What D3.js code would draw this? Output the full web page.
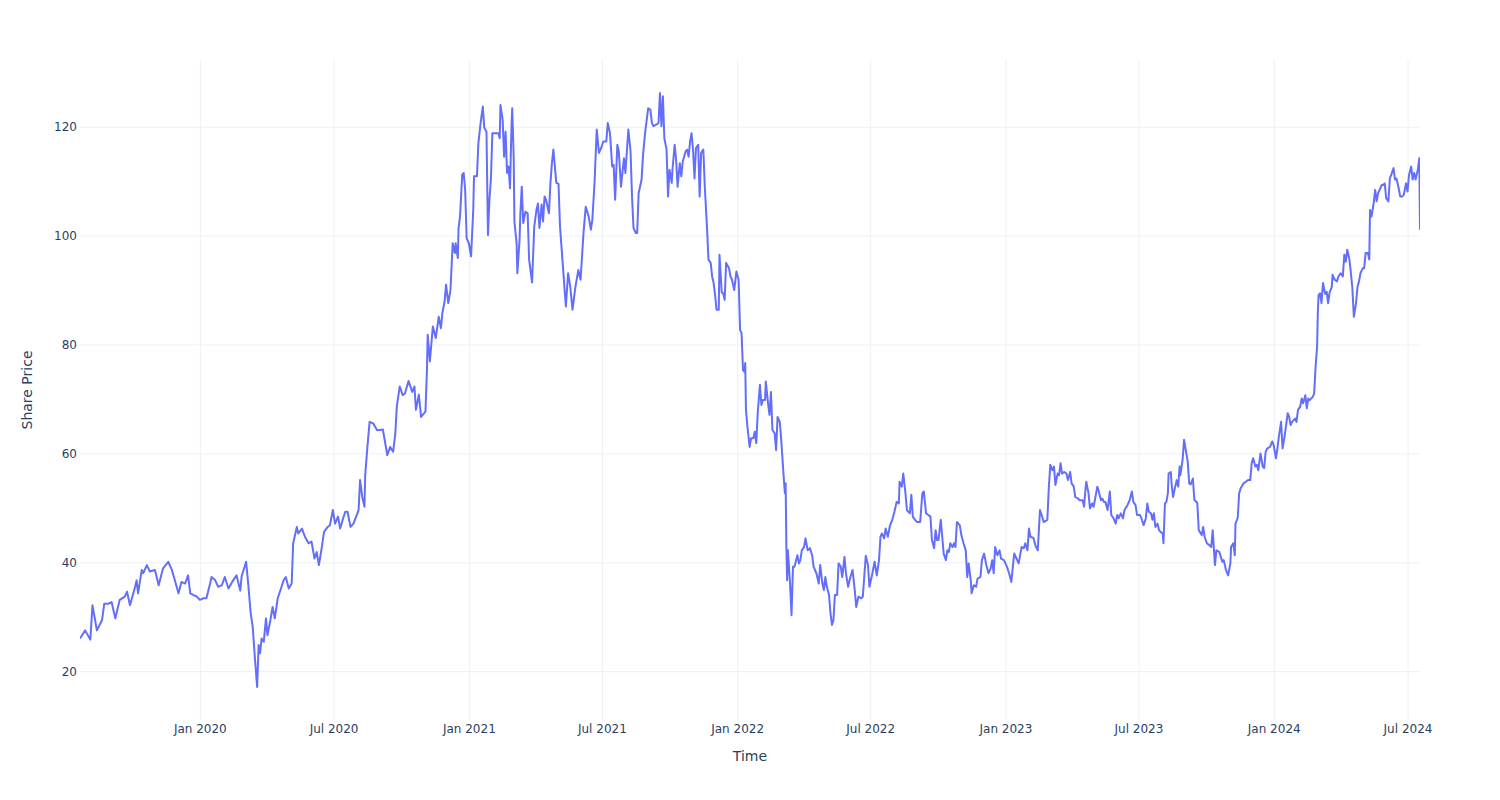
<!DOCTYPE html>
<html>
<head>
<meta charset="utf-8">
<script src="https://cdn.jsdelivr.net/npm/d3@7"></script>
<style>
  html, body { margin: 0; padding: 0; background: #fff; }
  svg { display: block; font-family: "DejaVu Sans", Verdana, sans-serif; }
</style>
</head>
<body>
<svg id="chart" width="1500" height="800"></svg>
<script>
// ---- data ----
const startDate = "2019-07-22";           // first trading day shown
// days elapsed since startDate for each observation
const dayOffsets = [0,7,14,17,23,30,33,39,43,48,54,61,64,68,75,77,79,84,86,91,95,102,107,113,120,125,129,134,138,143,147,150,154,159,163,168,172,177,179,184,188,193,197,202,207,213,218,220,226,229,232,235,238,241,243,245,247,250,253,255,259,262,265,269,272,277,280,284,288,290,295,297,302,306,311,315,319,322,325,329,332,337,340,344,347,351,354,358,361,364,368,372,374,379,381,384,387,388,391,394,399,404,408,412,415,418,422,426,429,431,435,439,442,447,452,455,457,461,464,470,472,473,476,480,484,488,491,493,496,498,501,504,507,510,511,514,515,517,520,522,524,526,529,532,535,536,540,542,545,548,550,553,555,557,559,561,565,569,571,572,575,577,579,581,583,585,587,588,590,591,594,595,598,599,601,603,606,609,611,615,618,621,623,625,628,630,632,634,638,640,642,644,648,651,653,656,659,661,664,667,670,674,678,681,685,688,692,695,697,700,703,706,709,712,716,718,721,724,726,728,731,733,736,740,742,746,749,751,753,756,758,760,764,766,769,773,776,778,780,784,787,789,791,793,795,798,800,802,805,806,809,811,813,816,818,820,824,826,828,830,832,834,836,838,841,843,845,848,850,853,855,858,860,862,864,866,869,870,873,875,877,879,883,885,887,890,893,896,898,900,902,904,905,906,908,911,913,916,918,920,922,925,927,929,932,933,936,938,940,942,945,947,949,952,954,957,959,960,961,962,963,966,968,970,972,976,978,980,982,985,987,990,993,996,998,1002,1005,1007,1010,1012,1014,1016,1019,1021,1023,1025,1027,1030,1032,1035,1037,1040,1042,1045,1048,1051,1054,1056,1059,1063,1065,1069,1072,1074,1078,1081,1084,1087,1089,1091,1094,1096,1099,1102,1105,1108,1111,1114,1115,1118,1120,1123,1125,1129,1131,1133,1136,1139,1143,1146,1148,1151,1154,1157,1159,1162,1164,1166,1168,1171,1173,1175,1178,1180,1182,1184,1187,1189,1191,1193,1197,1199,1202,1205,1207,1209,1212,1213,1216,1219,1221,1225,1227,1230,1233,1236,1239,1241,1243,1245,1248,1251,1253,1257,1261,1264,1267,1270,1271,1274,1277,1281,1284,1286,1289,1291,1293,1297,1300,1303,1306,1309,1311,1316,1318,1320,1323,1325,1327,1330,1332,1334,1336,1339,1342,1344,1347,1349,1352,1354,1358,1360,1364,1366,1368,1369,1372,1374,1377,1379,1382,1384,1386,1389,1391,1393,1395,1398,1401,1403,1406,1409,1411,1413,1416,1419,1421,1425,1428,1431,1433,1436,1438,1442,1444,1447,1450,1452,1454,1457,1459,1461,1463,1466,1468,1470,1473,1474,1476,1478,1480,1481,1484,1485,1487,1490,1492,1494,1496,1497,1500,1502,1504,1507,1509,1511,1514,1516,1520,1522,1526,1528,1530,1533,1536,1539,1541,1544,1546,1550,1552,1554,1556,1559,1562,1565,1566,1569,1571,1572,1575,1577,1579,1583,1586,1589,1592,1594,1596,1599,1601,1603,1606,1609,1611,1613,1615,1619,1622,1624,1627,1629,1631,1634,1636,1638,1640,1643,1645,1647,1649,1653,1655,1657,1660,1662,1664,1667,1669,1671,1673,1677,1679,1681,1683,1684,1685,1687,1689,1691,1694,1696,1698,1700,1703,1704,1707,1710,1712,1715,1718,1720,1722,1724,1727,1729,1731,1733,1736,1738,1740,1742,1745,1747,1749,1752,1754,1755,1757,1760,1762,1764,1766,1768,1771,1773,1775,1777,1780,1782,1784,1787,1789,1791,1794,1796,1799,1801,1804,1806,1808,1811,1813,1815,1817,1820,1822,1823];
const prices = [26.0,27.5,25.8,32.1,27.5,29.4,32.4,32.4,32.7,29.7,33.1,33.7,34.6,32.1,35.5,36.7,34.3,38.6,38.0,39.5,38.3,38.6,35.8,38.9,40.1,38.6,36.7,34.3,36.4,36.1,37.6,34.3,34.0,33.7,33.1,33.4,33.4,36.1,37.3,36.7,35.5,35.8,37.3,35.2,36.4,37.6,34.8,37.5,40.1,35.8,30.9,28.1,22.3,17.1,24.8,23.3,26.0,25.4,29.7,26.6,29.4,31.8,29.7,33.4,34.6,36.7,37.3,35.2,36.1,43.5,46.5,45.3,46.2,44.7,43.5,43.8,40.7,41.9,39.5,42.8,45.6,46.5,46.8,49.6,47.1,48.4,46.2,48.1,49.3,49.3,46.5,47.1,47.8,49.6,55.1,52.0,50.2,56.0,61.2,65.8,65.5,64.3,64.3,64.4,62.1,59.7,61.2,60.3,63.7,68.6,72.3,70.7,71.0,73.3,71.3,72.3,68.0,70.8,66.7,67.7,75.3,81.8,76.9,83.3,81.2,85.1,83.0,85.8,87.9,91.0,87.6,90.0,98.6,96.8,98.6,95.9,101.4,103.5,111.2,111.5,108.4,99.5,98.6,96.2,104.7,110.9,110.9,117.0,120.7,123.7,119.8,119.1,100.1,106.6,110.3,118.8,118.8,118.8,117.9,124.0,121.3,114.5,119.1,111.5,112.7,108.7,120.0,123.4,114.5,102.6,98.6,93.1,99.2,103.8,109.0,102.3,104.4,104.1,95.6,91.4,101.7,104.7,105.9,101.4,105.7,102.6,107.2,106.6,104.1,109.7,113.3,115.8,109.7,109.5,101.7,96.2,90.6,87.0,93.1,90.6,86.4,90.6,93.7,91.9,100.5,105.3,103.5,101.1,102.9,109.7,119.5,115.2,116.1,117.3,117.3,120.7,118.8,112.7,113.0,106.6,116.7,115.5,109.0,114.2,111.5,119.5,115.5,107.2,101.4,100.5,100.5,107.8,110.3,114.9,119.1,123.4,123.1,120.7,120.1,120.4,120.7,126.2,120.1,125.6,117.9,115.8,107.2,112.1,109.7,112.1,116.7,113.9,109.0,113.3,110.9,113.6,115.5,115.8,114.5,117.3,118.8,115.8,110.5,116.1,116.7,107.2,115.2,115.8,109.0,101.5,95.6,95.0,92.5,91.3,89.1,86.4,86.4,96.5,89.6,89.4,88.2,95.0,94.0,92.5,91.9,90.0,93.4,91.9,82.7,82.1,75.3,75.0,76.6,68.0,64.9,61.2,62.8,62.8,64.0,61.9,67.4,72.6,68.9,69.8,69.8,73.2,69.2,67.1,71.3,64.3,63.7,60.6,66.7,65.8,62.5,56.3,52.7,54.5,42.8,36.7,42.2,36.1,30.3,39.2,39.2,41.3,39.8,40.4,42.2,42.8,44.4,42.2,42.6,41.3,39.2,37.9,36.1,39.5,36.1,34.9,37.3,35.5,34.0,30.6,28.5,29.4,34.0,34.0,39.8,39.2,37.3,41.0,38.0,35.5,37.3,38.6,34.9,31.8,33.7,33.4,33.7,41.2,39.5,35.5,38.0,40.1,37.6,40.4,44.7,45.3,44.4,46.2,44.7,46.8,47.8,49.3,51.1,50.8,54.8,53.9,56.3,52.7,49.6,49.0,52.4,48.4,47.8,47.4,47.4,52.7,53.0,49.0,48.7,48.4,44.1,42.6,45.9,44.1,44.1,47.8,44.7,41.6,40.4,42.2,41.9,43.5,42.8,43.5,42.8,47.4,46.8,45.0,43.5,42.2,37.3,39.8,36.4,34.3,35.8,35.5,37.0,37.3,40.4,41.6,39.5,38.0,38.9,40.4,38.0,42.8,41.3,42.2,40.7,40.4,39.2,38.0,36.4,40.4,41.6,40.7,39.8,42.8,42.6,43.5,42.2,46.2,44.7,44.5,43.0,42.2,49.6,48.4,47.4,47.8,53.6,57.9,56.9,57.6,54.2,56.3,56.0,58.2,56.3,56.6,56.3,55.1,56.6,54.5,53.9,52.0,51.7,51.4,51.4,50.2,53.6,54.8,52.7,49.9,50.8,50.2,52.4,53.9,53.0,51.4,51.7,51.1,51.1,49.6,53.0,48.7,48.1,47.1,48.7,48.1,49.0,48.1,49.6,50.5,51.4,53.0,51.1,50.5,48.7,48.7,48.1,46.8,48.1,50.8,49.3,49.0,47.8,49.0,46.5,47.1,45.9,45.6,45.3,43.5,50.8,51.1,52.7,56.3,56.6,54.5,52.0,53.9,55.1,53.9,57.6,56.0,58.8,62.5,60.9,58.5,54.5,54.3,55.4,51.5,50.9,45.9,45.0,46.5,44.7,43.5,43.2,42.8,45.9,39.5,42.2,41.9,41.0,40.1,40.4,38.6,37.6,39.8,42.8,43.5,41.3,47.1,48.1,52.7,53.6,54.5,54.8,55.1,55.1,58.2,59.1,57.6,57.9,56.9,60.0,57.6,57.3,60.3,60.9,61.2,62.2,61.5,59.1,60.9,63.1,65.8,60.9,62.5,64.3,67.4,66.7,65.2,65.8,66.4,65.8,68.0,68.6,70.1,69.2,70.7,68.3,70.1,69.8,70.4,71.0,76.0,79.6,85.8,89.1,89.4,87.6,91.3,89.3,89.7,87.6,89.6,90.6,92.8,91.9,91.6,92.5,93.1,92.5,96.5,95.2,97.4,95.6,93.1,90.3,85.1,87.6,90.6,91.6,93.1,94.0,94.0,96.8,96.8,95.6,104.7,103.5,106.0,108.4,106.3,107.8,108.4,109.3,109.3,109.6,106.9,106.3,110.5,111.2,112.4,110.3,110.5,108.7,107.2,107.2,107.5,109.6,108.1,111.1,112.7,110.3,111.5,110.3,112.1,114.2,101.1];
const xTickDates = ["2020-01-01","2020-07-01","2021-01-01","2021-07-01","2022-01-01","2022-07-01","2023-01-01","2023-07-01","2024-01-01","2024-07-01"];
const yTickValues = [20, 40, 60, 80, 100, 120];
const xTitle = "Time";
const yTitle = "Share Price";

// ---- layout ----
const W = 1500, H = 800;
const margin = { left: 80, right: 80, top: 60, bottom: 80 };
const plotW = W - margin.left - margin.right;
const plotH = H - margin.top - margin.bottom;

const parse = d3.utcParse("%Y-%m-%d");
const start = parse(startDate);
const series = dayOffsets.map((d, i) => ({ date: d3.utcDay.offset(start, d), value: prices[i] }));

const x = d3.scaleUtc()
  .domain(d3.extent(series, d => d.date))
  .range([margin.left, margin.left + plotW]);

const [vmin, vmax] = d3.extent(series, d => d.value);
const pad = (vmax - vmin) * 0.05 / 0.9;
const y = d3.scaleLinear()
  .domain([vmin - pad, vmax + pad])
  .range([margin.top + plotH, margin.top]);

const svg = d3.select("#chart");
svg.append("rect").attr("width", W).attr("height", H).attr("fill", "#ffffff");

const gridColor = "#ebf0f8";
const textColor = "#2a3f5f";

// vertical grid + x labels
const xTicks = xTickDates.map(parse);
const xAxis = d3.axisBottom(x)
  .tickValues(xTicks)
  .tickSize(-plotH)
  .tickPadding(4)
  .tickFormat(d3.utcFormat("%b %Y"));
const gx = svg.append("g")
  .attr("transform", `translate(0,${margin.top + plotH})`)
  .call(xAxis);
gx.select(".domain").remove();
gx.selectAll(".tick line").attr("stroke", gridColor).attr("stroke-width", 1);
gx.selectAll(".tick text").attr("fill", textColor).attr("font-size", 12)
  .attr("font-family", "DejaVu Sans, sans-serif");

// horizontal grid + y labels
const yAxis = d3.axisLeft(y)
  .tickValues(yTickValues)
  .tickSize(-plotW)
  .tickPadding(3)
  .tickFormat(d3.format("d"));
const gy = svg.append("g")
  .attr("transform", `translate(${margin.left},0)`)
  .call(yAxis);
gy.select(".domain").remove();
gy.selectAll(".tick line").attr("stroke", gridColor).attr("stroke-width", 1);
gy.selectAll(".tick text").attr("fill", textColor).attr("font-size", 12)
  .attr("font-family", "DejaVu Sans, sans-serif");

// clip
svg.append("clipPath").attr("id", "clip")
  .append("rect")
  .attr("x", margin.left).attr("y", margin.top)
  .attr("width", plotW).attr("height", plotH);

const line = d3.line()
  .x(d => x(d.date))
  .y(d => y(d.value));

svg.append("path")
  .datum(series)
  .attr("clip-path", "url(#clip)")
  .attr("fill", "none")
  .attr("stroke", "#636efa")
  .attr("stroke-width", 2)
  .attr("stroke-linejoin", "round")
  .attr("d", line);

// axis titles
svg.append("text")
  .attr("x", margin.left + plotW / 2)
  .attr("y", 761)
  .attr("text-anchor", "middle")
  .attr("fill", textColor)
  .attr("font-size", 14)
  .text(xTitle);

svg.append("text")
  .attr("transform", `translate(32,${margin.top + plotH / 2}) rotate(-90)`)
  .attr("text-anchor", "middle")
  .attr("fill", textColor)
  .attr("font-size", 14)
  .text(yTitle);
</script>
</body>
</html>
